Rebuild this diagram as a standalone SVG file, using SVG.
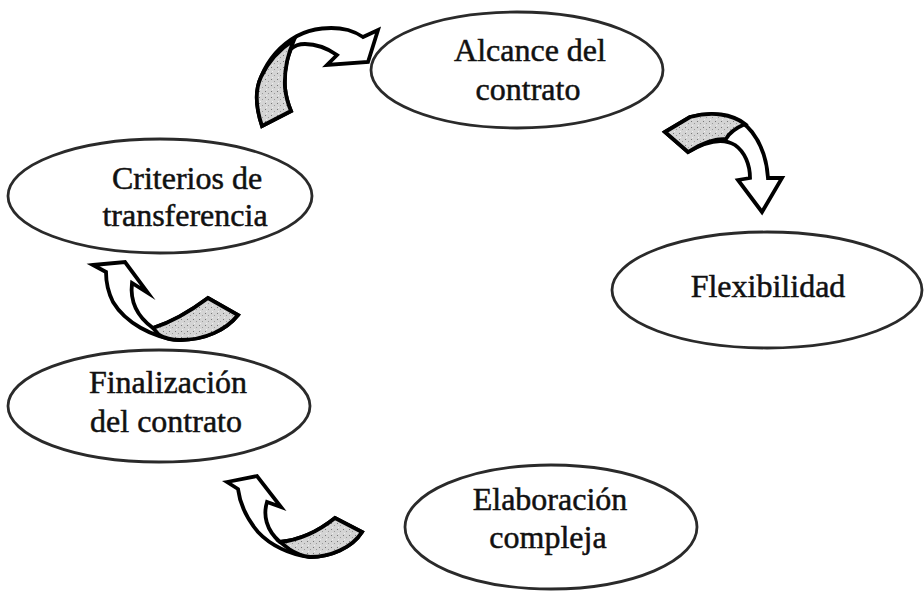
<svg xmlns="http://www.w3.org/2000/svg" width="924" height="607" viewBox="0 0 924 607">
<style>
.node ellipse{fill:#fff;stroke:#2a2a2a;stroke-width:2.8}
.node text{font-family:"Liberation Serif","Times New Roman",serif;font-size:32px;fill:#111;stroke:#111;stroke-width:0.5;text-anchor:middle}
.arr path{stroke:#000;stroke-width:3.8;stroke-linejoin:miter;stroke-miterlimit:8}
.arr .w{fill:#fff}
.arr .g{fill:url(#stip)}
</style>
<defs>
<pattern id="stip" width="6" height="6" patternUnits="userSpaceOnUse">
<rect width="6" height="6" fill="#d4d4d4"/>
<rect x="1" y="1" width="1" height="1" fill="#777"/>
<rect x="4" y="3" width="1" height="1" fill="#999"/>
<rect x="2" y="5" width="1" height="1" fill="#eee"/>
</pattern>
</defs>
<rect width="924" height="607" fill="#fff"/>
<g id="connectors" class="arr">
<g id="arrow-a">
<path class="w" d="M262,126 C256,108 254,92 261,77 C268,60 281,45 297,36 C312,28 332,26 348,30 C355,32 360,35 363,37 L378,30 L368,62 L327,65 L337,55 C327,48 316,44 305,44 C299,44 294,46 291,49 C286,60 284,72 285,88 C286,97 288,104 291,111 Z"/>
<path class="g" d="M262,126 C256,108 254,92 261,77 C268,62 280,49 294,40 C287,56 284,72 285,88 C286,97 288,104 291,111 Z"/>
</g>
<g id="arrow-b">
<path class="w" d="M665,132 L690,117 C715,110 740,116 752,132 C762,145 767,162 768,178 L782,178 L762,212 L738,180 L750,178 C750,165 745,152 735,145 C722,137 705,142 688,152 Z"/>
<path class="g" d="M665,132 L690,117 C712,111 732,114 745,124 C736,128 729,133 726,139 C712,139 700,144 688,152 Z"/>
</g>
<g id="arrow-c">
<path class="w" d="M93,265 L125,262 L148,293 L132,283 C130,300 135,315 153,328 C172,322 192,310 208,298 L238,315 C226,330 205,340 180,340 C152,338 125,322 113,302 C108,292 106,282 106,272 Z"/>
<path class="g" d="M153,328 C172,322 192,310 208,298 L238,315 C226,330 205,340 180,340 C171,340 164,338 159,335 Z"/>
</g>
<g id="arrow-d">
<path class="w" d="M227,482 L257,476 L281,507 L267,502 C263,515 266,530 280,542 C300,540 320,530 335,518 L362,532 C352,548 330,557 310,557 C290,555 270,545 258,532 C248,520 240,505 238,489 Z"/>
<path class="g" d="M280,542 C300,540 320,530 335,518 L362,532 C352,548 330,557 310,557 C302,556 295,553 289,549 Z"/>
</g>
</g>
<g id="node-alcance" class="node">
<ellipse cx="517" cy="70" rx="146" ry="58"/>
<text x="530" y="61">Alcance del</text>
<text x="528" y="100">contrato</text>
</g>
<g id="node-criterios" class="node">
<ellipse cx="160" cy="196" rx="152" ry="57"/>
<text x="187" y="189">Criterios de</text>
<text x="185" y="226">transferencia</text>
</g>
<g id="node-flexibilidad" class="node">
<ellipse cx="767" cy="290" rx="155" ry="58"/>
<text x="768" y="297">Flexibilidad</text>
</g>
<g id="node-finalizacion" class="node">
<ellipse cx="159" cy="406" rx="151" ry="56"/>
<text x="168" y="393">Finalización</text>
<text x="166" y="432">del contrato</text>
</g>
<g id="node-elaboracion" class="node">
<ellipse cx="551" cy="527" rx="146" ry="62"/>
<text x="550" y="510">Elaboración</text>
<text x="548" y="548">compleja</text>
</g>
</svg>
